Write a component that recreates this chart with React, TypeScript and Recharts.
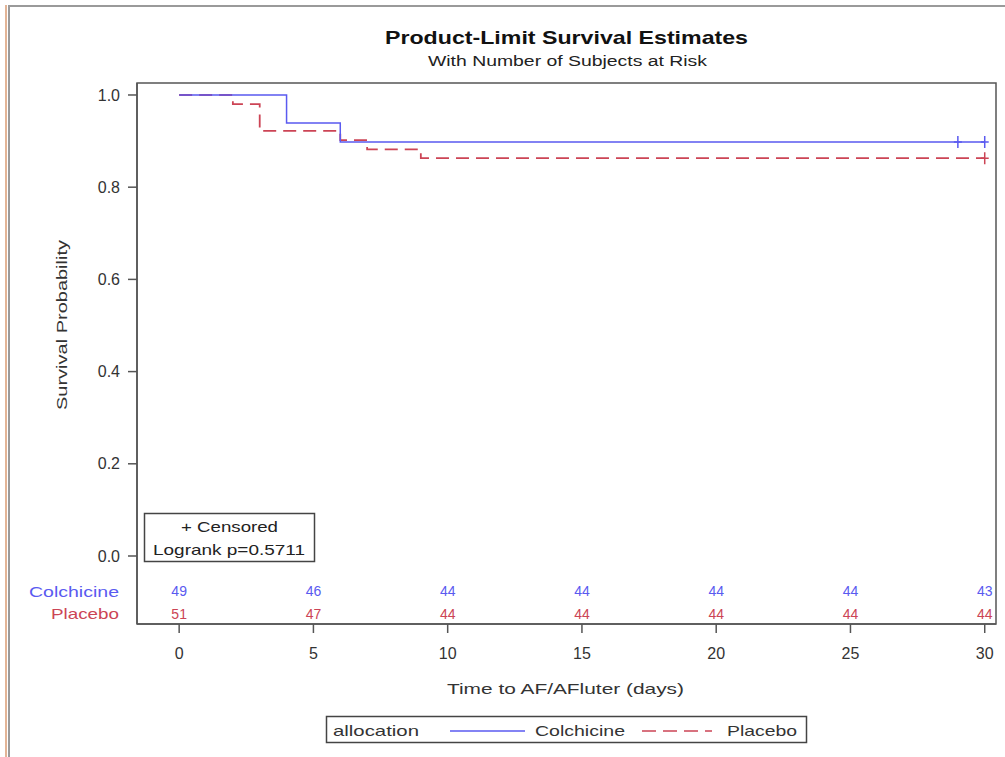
import {
  ComposedChart,
  Line,
  Scatter,
  XAxis,
  YAxis,
  ReferenceArea,
} from "recharts";

// Kaplan-Meier step points (time in days, survival estimate)
const colchicineTime = [0, 4, 6, 30];
const colchicineSurv = [1.0, 0.939, 0.898, 0.898];
const placeboTime = [0, 2, 3, 6, 7, 9, 30];
const placeboSurv = [1.0, 0.98, 0.922, 0.902, 0.882, 0.863, 0.863];

// censored observations
const colchicineCensor = [29, 30];
const placeboCensor = [30];

// number at risk table
const riskTimes = [0, 5, 10, 15, 20, 25, 30];
const colchicineAtRisk = [49, 46, 44, 44, 44, 44, 43];
const placeboAtRisk = [51, 47, 44, 44, 44, 44, 44];

const xTicks = [0, 5, 10, 15, 20, 25, 30];
const yTicks = [0, 0.2, 0.4, 0.6, 0.8, 1.0];

const BLUE = "#5a5af0";
const RED = "#cc4455";
const AXIS = "#555";
const TXT = "#333";
const FONT = "'Liberation Sans', Arial, sans-serif";

const X_DOMAIN: [number, number] = [-1.57, 30.42];
const Y_DOMAIN: [number, number] = [-0.1475, 1.026];
const ROW_C = -0.076;
const ROW_P = -0.126;

const toPoints = (t: number[], s: number[]) =>
  t.map((v, i) => ({ t: v, s: s[i] }));

const survAt = (t: number[], s: number[], time: number) => {
  let v = s[0];
  t.forEach((tt, i) => {
    if (tt <= time) v = s[i];
  });
  return v;
};

const colchicineData = toPoints(colchicineTime, colchicineSurv);
const placeboData = toPoints(placeboTime, placeboSurv);

const colchicineCens = colchicineCensor.map((t) => ({
  t,
  s: survAt(colchicineTime, colchicineSurv, t),
}));
const placeboCens = placeboCensor.map((t) => ({
  t,
  s: survAt(placeboTime, placeboSurv, t),
}));

const colchicineRisk = riskTimes.map((t, i) => ({ t, s: ROW_C, n: colchicineAtRisk[i] }));
const placeboRisk = riskTimes.map((t, i) => ({ t, s: ROW_P, n: placeboAtRisk[i] }));

const censorShape = (color: string) => (props: any) => {
  const { cx, cy } = props;
  return (
    <path
      d={`M${cx},${cy - 6}L${cx},${cy + 6}M${cx - 4},${cy}L${cx + 4},${cy}`}
      stroke={color}
      strokeWidth={1.5}
      fill="none"
    />
  );
};

const riskShape = (color: string) => (props: any) => {
  const { cx, cy, payload } = props;
  return (
    <text
      x={cx}
      y={cy + 5}
      textAnchor="middle"
      fontSize={14}
      fontFamily={FONT}
      fill={color}
    >
      {payload.n}
    </text>
  );
};

// stretched text helper, the source image has wide lettering
const T = (p: any) => {
  const { len, children, ...rest } = p;
  return (
    <text
      fontFamily={FONT}
      fill={TXT}
      textLength={len}
      lengthAdjust="spacingAndGlyphs"
      {...rest}
    >
      {children}
    </text>
  );
};

const YLabel = () => (
  <T
    x={0}
    y={0}
    transform="translate(67, 325) rotate(-90)"
    textAnchor="middle"
    fontSize={15}
    len={170}
  >
    Survival Probability
  </T>
);

const XLabel = () => (
  <T x={447} y={694} fontSize={15} len={237}>
    Time to AF/AFluter (days)
  </T>
);

export default function App() {
  return (
    <div
      style={{
        position: "absolute",
        left: 0,
        top: 0,
        width: 1005,
        height: 757,
        background: "#fff",
        overflow: "hidden",
      }}
    >
      {/* outer frame lines of the original figure */}
      <div style={{ position: "absolute", left: 5, top: 5, width: 2, height: 752, background: "#e2b496" }} />
      <div style={{ position: "absolute", left: 8, top: 5, width: 2, height: 752, background: "#9a9a9a" }} />
      <div style={{ position: "absolute", left: 8, top: 5, width: 997, height: 2, background: "#9a9a9a" }} />

      <ComposedChart
        width={1005}
        height={757}
        margin={{ top: 83, right: 9, bottom: 58, left: 57 }}
        style={{ position: "absolute", left: 0, top: 0 }}
      >
        <XAxis
          type="number"
          dataKey="t"
          domain={X_DOMAIN}
          allowDataOverflow
          ticks={xTicks}
          tickSize={9}
          tickMargin={15}
          height={75}
          stroke={AXIS}
          strokeWidth={1.5}
          tick={{ fontSize: 16, fill: TXT, fontFamily: FONT }}
          label={<XLabel />}
        />
        <YAxis
          type="number"
          dataKey="s"
          domain={Y_DOMAIN}
          allowDataOverflow
          ticks={yTicks}
          tickSize={9}
          tickMargin={8}
          width={80}
          stroke={AXIS}
          strokeWidth={1.5}
          tickFormatter={(v: number) => v.toFixed(1)}
          tick={{ fontSize: 16, fill: TXT, fontFamily: FONT }}
          label={<YLabel />}
        />
        <ReferenceArea
          x1={X_DOMAIN[0]}
          x2={X_DOMAIN[1]}
          y1={Y_DOMAIN[0]}
          y2={Y_DOMAIN[1]}
          fill="none"
          stroke={AXIS}
          strokeWidth={1.5}
          ifOverflow="visible"
        />
        <Line
          data={placeboData}
          dataKey="s"
          type="stepAfter"
          stroke={RED}
          strokeWidth={1.8}
          strokeDasharray="13 7"
          dot={false}
          isAnimationActive={false}
        />
        <Line
          data={colchicineData}
          dataKey="s"
          type="stepAfter"
          stroke={BLUE}
          strokeWidth={1.5}
          dot={false}
          isAnimationActive={false}
        />
        <Scatter data={colchicineCens} dataKey="s" shape={censorShape(BLUE)} isAnimationActive={false} />
        <Scatter data={placeboCens} dataKey="s" shape={censorShape(RED)} isAnimationActive={false} />
        <Scatter data={colchicineRisk} dataKey="s" shape={riskShape(BLUE)} isAnimationActive={false} />
        <Scatter data={placeboRisk} dataKey="s" shape={riskShape(RED)} isAnimationActive={false} />
      </ComposedChart>

      {/* titles, at-risk row names, inset and legend */}
      <svg
        width={1005}
        height={757}
        style={{ position: "absolute", left: 0, top: 0, pointerEvents: "none" }}
      >
        <T x={385} y={44} fontSize={19} fontWeight="bold" fill="#111" len={363}>
          Product-Limit Survival Estimates
        </T>
        <T x={428} y={66} fontSize={14} fill="#222" len={279}>
          With Number of Subjects at Risk
        </T>

        <T x={29} y={597} fontSize={15} fill={BLUE} len={90}>
          Colchicine
        </T>
        <T x={51} y={619} fontSize={15} fill={RED} len={68}>
          Placebo
        </T>

        <rect x={144.5} y={513.5} width={170} height={48} fill="#fff" stroke="#444" strokeWidth={1.5} />
        <T x={181} y={532} fontSize={15} fill="#222" len={97}>
          + Censored
        </T>
        <T x={153} y={555} fontSize={15} fill="#222" len={152}>
          Logrank p=0.5711
        </T>

        <rect x={326.5} y={716.5} width={480} height={26} fill="#fff" stroke="#444" strokeWidth={1.5} />
        <T x={333} y={736} fontSize={15} len={86}>
          allocation
        </T>
        <line x1={450} y1={731} x2={525} y2={731} stroke={BLUE} strokeWidth={1.5} />
        <T x={535} y={736} fontSize={15} len={90}>
          Colchicine
        </T>
        <line x1={642} y1={731} x2={712} y2={731} stroke={RED} strokeWidth={1.5} strokeDasharray="14 7" />
        <T x={727} y={736} fontSize={15} len={70}>
          Placebo
        </T>
      </svg>
    </div>
  );
}
